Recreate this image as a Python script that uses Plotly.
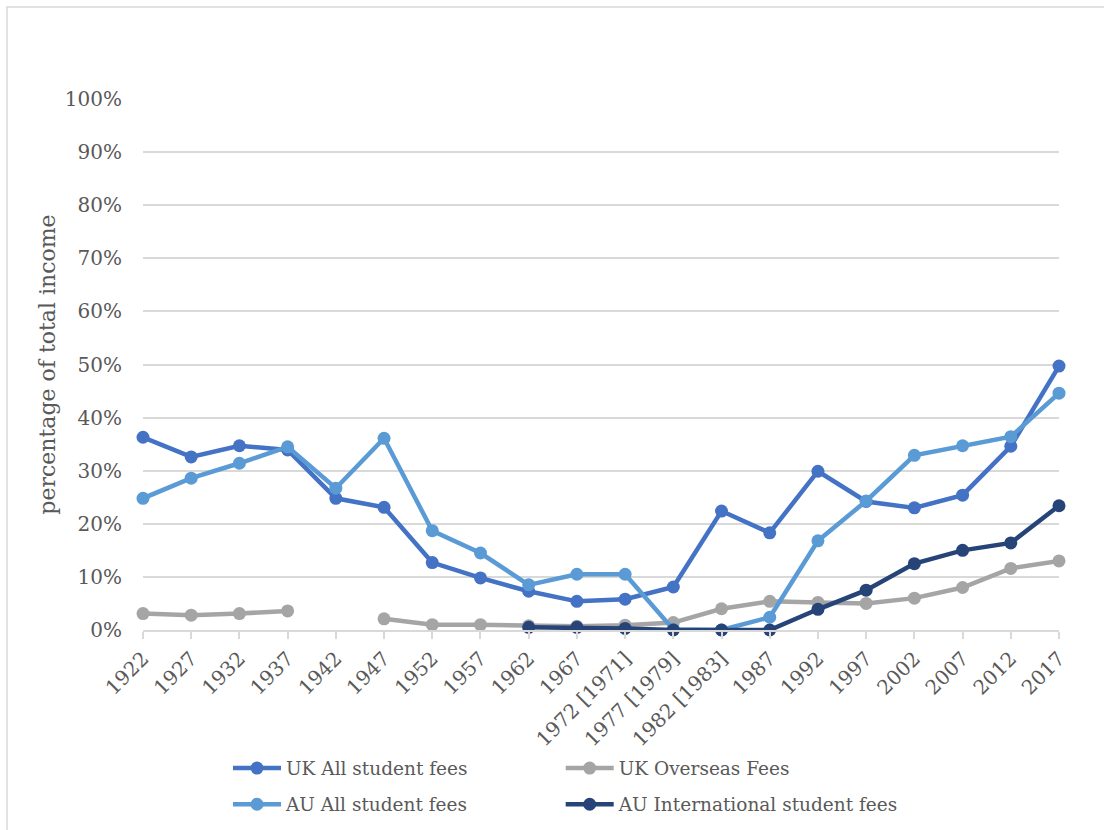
import plotly.graph_objects as go

categories = ["1922", "1927", "1932", "1937", "1942", "1947", "1952", "1957", "1962", "1967",
              "1972 [1971]", "1977 [1979]", "1982 [1983]", "1987", "1992", "1997", "2002",
              "2007", "2012", "2017"]

uk_all = [36.3, 32.6, 34.7, 33.9, 24.8, 23.1, 12.7, 9.8, 7.3, 5.4,
          5.8, 8.1, 22.4, 18.3, 29.9, 24.2, 23.0, 25.4, 34.6, 49.7]
uk_overseas = [3.1, 2.8, 3.1, 3.6, None, 2.1, 1.0, 1.0, 0.8, 0.7,
               0.9, 1.4, 4.0, 5.4, 5.2, 5.0, 6.0, 8.0, 11.6, 13.0]
au_all = [24.8, 28.6, 31.4, 34.5, 26.7, 36.1, 18.7, 14.5, 8.5, 10.5,
          10.5, 0.1, 0.0, 2.4, 16.8, 24.3, 32.9, 34.7, 36.4, 44.6]
au_intl = [None, None, None, None, None, None, None, None, 0.5, 0.5,
           0.3, 0.0, 0.0, 0.0, 3.9, 7.5, 12.5, 15.0, 16.4, 23.4]

y_ticks = [0, 10, 20, 30, 40, 50, 60, 70, 80, 90, 100]
y_tick_labels = ["0%", "10%", "20%", "30%", "40%", "50%", "60%", "70%", "80%", "90%", "100%"]

series = [
    ("UK All student fees", uk_all, "#4472C4", "legend"),
    ("UK Overseas Fees", uk_overseas, "#A5A5A5", "legend2"),
    ("AU All student fees", au_all, "#5B9BD5", "legend3"),
    ("AU International student fees", au_intl, "#264478", "legend4"),
]

FONT = "DejaVu Serif"
TXT = "#595959"
FS = 20

fig = go.Figure()
for name, vals, color, lg in series:
    fig.add_trace(go.Scatter(
        x=categories, y=vals, name=name, mode="lines+markers",
        line=dict(color=color, width=4.5),
        marker=dict(color=color, size=13),
        cliponaxis=False, legend=lg,
    ))

legend_common = dict(
    orientation="h", xanchor="left", yanchor="middle",
    font=dict(family=FONT, size=18.5, color=TXT),
    itemwidth=48,
    bgcolor="rgba(0,0,0,0)", itemclick=False, itemdoubleclick=False,
)

col1, col2 = 0.0928, 0.456
row1, row2 = -0.261, -0.329

fig.update_layout(
    width=1104, height=830,
    margin=dict(l=143, r=45, t=99, b=200, autoexpand=False),
    paper_bgcolor="white", plot_bgcolor="white",
    font=dict(family=FONT, color=TXT),
    showlegend=True,
    legend=dict(x=col1, y=row1, **legend_common),
    legend2=dict(x=col2, y=row1, **legend_common),
    legend3=dict(x=col1, y=row2, **legend_common),
    legend4=dict(x=col2, y=row2, **legend_common),
    xaxis=dict(
        type="category", range=[0, 19], showgrid=False,
        showline=True, linecolor="#D9D9D9", linewidth=2,
        ticks="outside", ticklen=7, tickcolor="#D9D9D9", tickwidth=1.5,
        tickangle=-45, tickfont=dict(family=FONT, size=FS, color=TXT),
        fixedrange=True,
    ),
    yaxis=dict(
        range=[0, 100], tickmode="array", tickvals=y_ticks, ticktext=y_tick_labels,
        showgrid=True, gridcolor="#D9D9D9", gridwidth=1.5,
        zeroline=False, showline=False,
        tickfont=dict(family=FONT, size=FS, color=TXT),
        ticklabelstandoff=20,
        title=dict(text="percentage of total income", standoff=3,
                   font=dict(family=FONT, size=22, color=TXT)),
        fixedrange=True,
    ),
    shapes=[dict(type="rect", xref="paper", yref="paper",
                 x0=(7 - 143) / 916, x1=(1110 - 143) / 916,
                 y0=(630 - 840) / 531, y1=(630 - 7) / 531,
                 line=dict(color="#D9D9D9", width=1.5), layer="below")],
)

fig.write_html("out.html", config=dict(displayModeBar=False))
